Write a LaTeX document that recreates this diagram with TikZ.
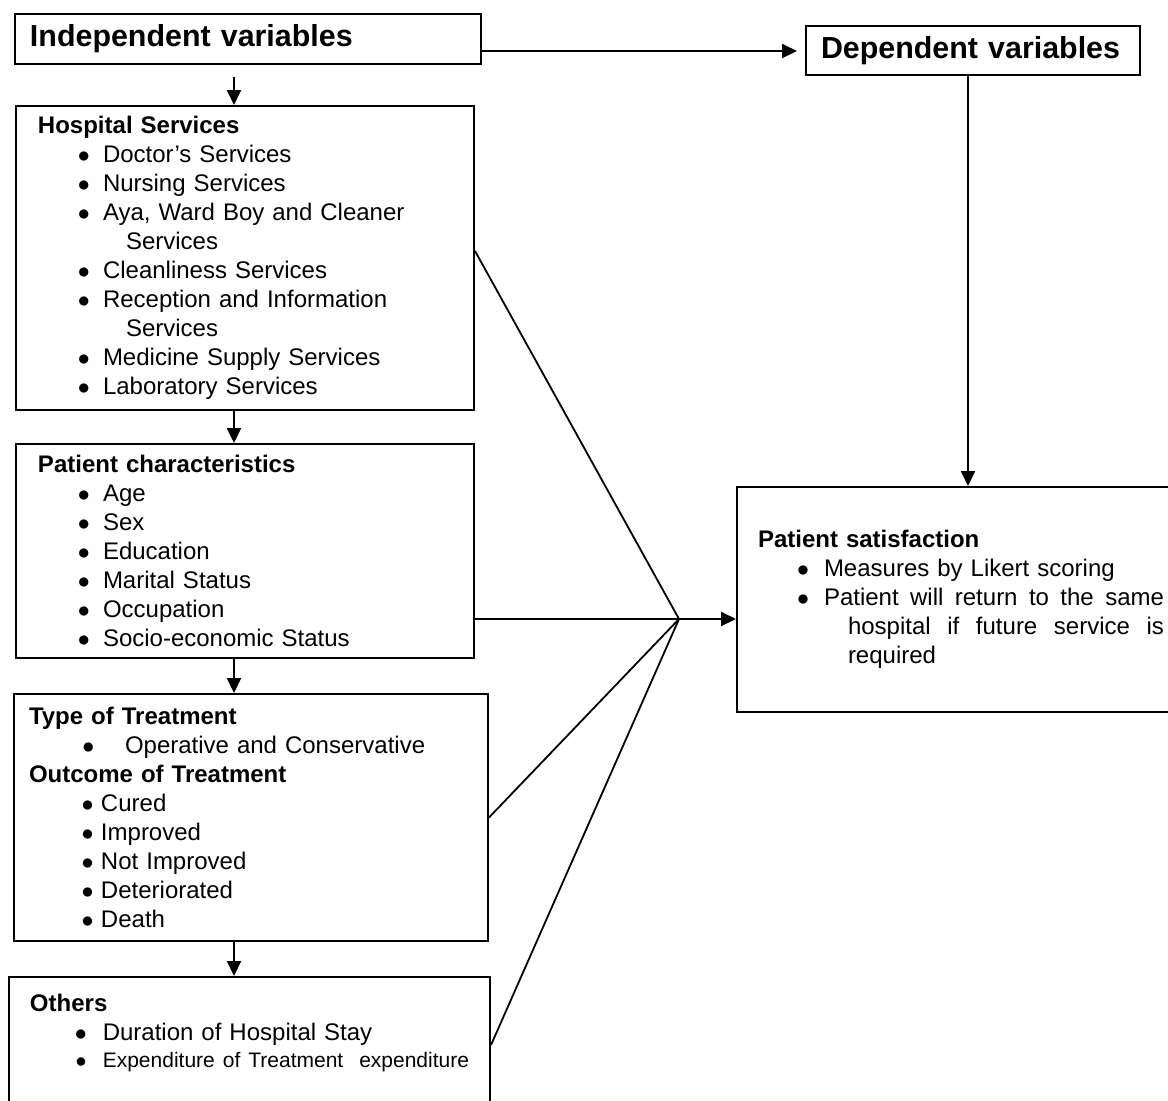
\documentclass[tikz,border=0pt]{standalone}
\usepackage{fontspec}
\setmainfont{Liberation Sans}
\usetikzlibrary{arrows.meta,positioning}

% bullet line: text left to bullet centre, bullet centre to text, text
\newcommand{\bitem}[3]{\hspace*{#1}\makebox[0pt]{$\bullet$}\hspace*{#2}#3}

\begin{document}
\begin{tikzpicture}[x=0.5pt,y=-0.5pt,
  varbox/.style={rectangle,draw,line width=1pt,anchor=north west,align=left,
    inner xsep=7.5pt,inner ysep=0pt,font=\fontsize{15.2}{18}\selectfont\bfseries},
  listbox/.style={rectangle,draw,line width=1pt,anchor=north west,align=left,
    font=\fontsize{12}{14.5}\selectfont},
  arr/.style={line width=1pt,-{Triangle[length=7.5pt,width=7pt]}},
  link/.style={line width=0.9pt}]
\useasboundingbox (0,0) rectangle (1168,1100);
\clip (0,0) rectangle (1168,1100);

\coordinate (spine) at (234,0);
\coordinate (jn) at (679,619);

\node[varbox,text width=218pt,minimum height=25pt] (indep) at (14,13) {Independent variables};
\node[varbox,text width=152pt,minimum height=24.5pt] (dep) at (805,25) {Dependent variables};

\node[listbox,text width=207pt,inner xsep=11pt,minimum height=152pt] (hosp) at (15,105) {%
  \textbf{Hospital Services}\\
  \bitem{23pt}{9.5pt}{Doctor’s Services}\\
  \bitem{23pt}{9.5pt}{Nursing Services}\\
  \bitem{23pt}{9.5pt}{Aya, Ward Boy and Cleaner}\\
  \hspace*{44pt}Services\\
  \bitem{23pt}{9.5pt}{Cleanliness Services}\\
  \bitem{23pt}{9.5pt}{Reception and Information}\\
  \hspace*{44pt}Services\\
  \bitem{23pt}{9.5pt}{Medicine Supply Services}\\
  \bitem{23pt}{9.5pt}{Laboratory Services}};

\node[listbox,text width=207pt,inner xsep=11pt,minimum height=107pt] (pat) at (15,443) {%
  \textbf{Patient characteristics}\\
  \bitem{23pt}{9.5pt}{Age}\\
  \bitem{23pt}{9.5pt}{Sex}\\
  \bitem{23pt}{9.5pt}{Education}\\
  \bitem{23pt}{9.5pt}{Marital Status}\\
  \bitem{23pt}{9.5pt}{Occupation}\\
  \bitem{23pt}{9.5pt}{Socio-economic Status}};

\node[listbox,text width=222pt,inner xsep=7.5pt,minimum height=123.5pt] (type) at (13,693) {%
  \textbf{Type of Treatment}\\
  \bitem{29.7pt}{18.3pt}{Operative and Conservative}\\
  \textbf{Outcome of Treatment}\\
  \bitem{29.3pt}{6.7pt}{Cured}\\
  \bitem{29.3pt}{6.7pt}{Improved}\\
  \bitem{29.3pt}{6.7pt}{Not Improved}\\
  \bitem{29.3pt}{6.7pt}{Deteriorated}\\
  \bitem{29.3pt}{6.7pt}{Death}};

\node[listbox,text width=219.5pt,inner xsep=10.5pt,inner ysep=8.3pt] (oth) at (8,976) {%
  \textbf{Others}\\
  \bitem{25.5pt}{10.9pt}{Duration of Hospital Stay}\\[-1pt]
  \mbox{\fontsize{10.5}{12.6}\selectfont\bitem{25.5pt}{10.9pt}{Expenditure of Treatment\ \ expenditure}}\\
  \mbox{}};

\node[listbox,text width=206pt,inner xsep=10.5pt,minimum height=112.5pt] (sat) at (736,486) {%
  \textbf{Patient satisfaction}\\
  \bitem{22.5pt}{10.5pt}{Measures by Likert scoring}\\
  \bitem{22.5pt}{10.5pt}{\makebox[170pt][s]{Patient \hfill will \hfill return \hfill to \hfill the \hfill same}}\\
  \hspace*{45pt}\makebox[158pt][s]{hospital \hfill if \hfill future \hfill service \hfill is}\\
  \hspace*{45pt}required};

% arrows between the boxes
\draw[arr] ([yshift=-6pt]indep.east) -- ([yshift=-6pt]indep.east -| dep.west) [shorten >=4pt];
\draw[arr,shorten <=6pt] (indep.south -| spine) -- (hosp.north -| spine);
\draw[arr] (hosp.south -| spine) -- (pat.north -| spine);
\draw[arr] (pat.south -| spine) -- (type.north -| spine);
\draw[arr] (type.south -| spine) -- (oth.north -| spine);
\draw[arr] ([xshift=-2.5pt]dep.south) -- ([xshift=-2.5pt]dep.south |- sat.north);

% lines into the junction
\draw[link] ([yshift=3.5pt]hosp.east) -- (jn);
\draw[link] (pat.east |- jn) -- (jn);
\draw[link] (type.east) -- (jn);
\draw[link] ([yshift=-34.5pt]oth.north east) -- (jn);
\draw[arr] (jn) -- (sat.west |- jn);
\end{tikzpicture}
\end{document}
